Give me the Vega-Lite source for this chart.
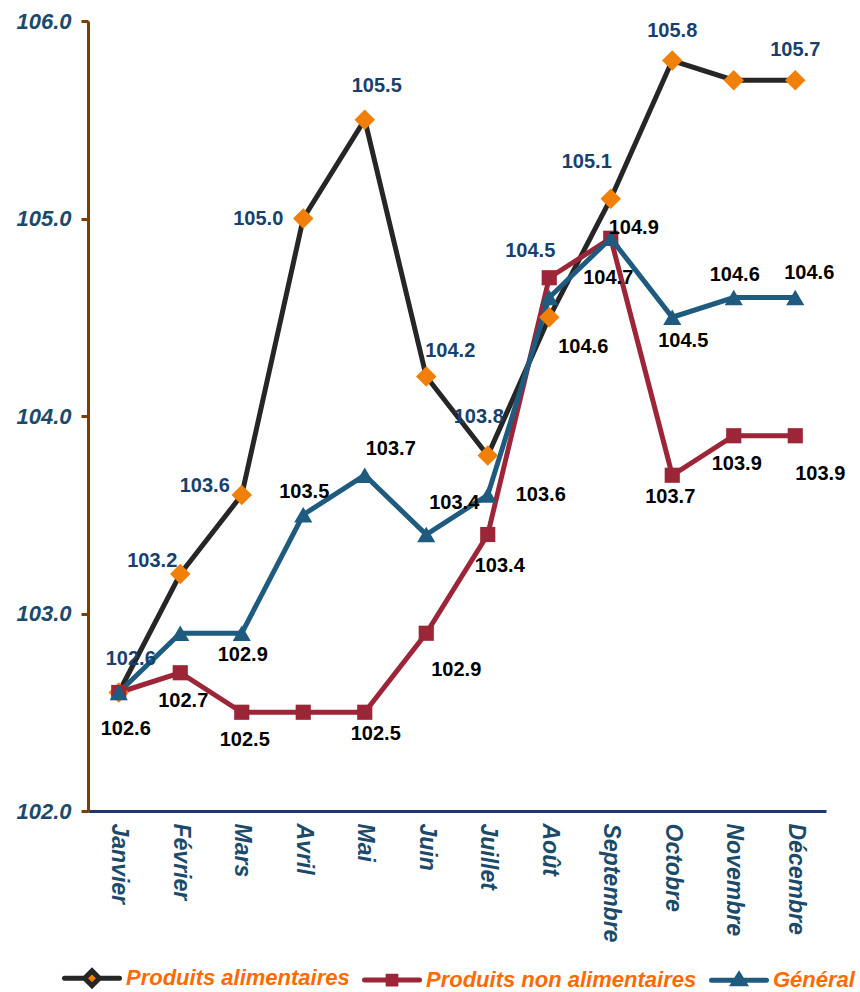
{
  "$schema": "https://vega.github.io/schema/vega-lite/v6.json",
  "autosize": "none",
  "width": 738,
  "height": 790,
  "padding": {"left": 88, "top": 21, "right": 34, "bottom": 181},
  "config": {"view": {"stroke": null}, "font": "Liberation Sans"},
  "data": {"values": [
    {"month": "Janvier", "series": "Produits alimentaires", "value": 102.6},
    {"month": "Février", "series": "Produits alimentaires", "value": 103.2},
    {"month": "Mars", "series": "Produits alimentaires", "value": 103.6},
    {"month": "Avril", "series": "Produits alimentaires", "value": 105.0},
    {"month": "Mai", "series": "Produits alimentaires", "value": 105.5},
    {"month": "Juin", "series": "Produits alimentaires", "value": 104.2},
    {"month": "Juillet", "series": "Produits alimentaires", "value": 103.8},
    {"month": "Août", "series": "Produits alimentaires", "value": 104.5},
    {"month": "Septembre", "series": "Produits alimentaires", "value": 105.1},
    {"month": "Octobre", "series": "Produits alimentaires", "value": 105.8},
    {"month": "Novembre", "series": "Produits alimentaires", "value": 105.7},
    {"month": "Décembre", "series": "Produits alimentaires", "value": 105.7},
    {"month": "Janvier", "series": "Produits non alimentaires", "value": 102.6},
    {"month": "Février", "series": "Produits non alimentaires", "value": 102.7},
    {"month": "Mars", "series": "Produits non alimentaires", "value": 102.5},
    {"month": "Avril", "series": "Produits non alimentaires", "value": 102.5},
    {"month": "Mai", "series": "Produits non alimentaires", "value": 102.5},
    {"month": "Juin", "series": "Produits non alimentaires", "value": 102.9},
    {"month": "Juillet", "series": "Produits non alimentaires", "value": 103.4},
    {"month": "Août", "series": "Produits non alimentaires", "value": 104.7},
    {"month": "Septembre", "series": "Produits non alimentaires", "value": 104.9},
    {"month": "Octobre", "series": "Produits non alimentaires", "value": 103.7},
    {"month": "Novembre", "series": "Produits non alimentaires", "value": 103.9},
    {"month": "Décembre", "series": "Produits non alimentaires", "value": 103.9},
    {"month": "Janvier", "series": "Général", "value": 102.6},
    {"month": "Février", "series": "Général", "value": 102.9},
    {"month": "Mars", "series": "Général", "value": 102.9},
    {"month": "Avril", "series": "Général", "value": 103.5},
    {"month": "Mai", "series": "Général", "value": 103.7},
    {"month": "Juin", "series": "Général", "value": 103.4},
    {"month": "Juillet", "series": "Général", "value": 103.6},
    {"month": "Août", "series": "Général", "value": 104.6},
    {"month": "Septembre", "series": "Général", "value": 104.9},
    {"month": "Octobre", "series": "Général", "value": 104.5},
    {"month": "Novembre", "series": "Général", "value": 104.6},
    {"month": "Décembre", "series": "Général", "value": 104.6}
  ]},
  "encoding": {
    "x": {"field": "month", "type": "nominal",
      "sort": ["Janvier","Février","Mars","Avril","Mai","Juin","Juillet","Août","Septembre","Octobre","Novembre","Décembre"],
      "scale": {"type": "point", "padding": 0.5},
      "axis": {"title": null, "labelAngle": 90, "labelAlign": "left", "labelBaseline": "middle",
        "labelFont": "Liberation Sans", "labelFontSize": 23, "labelFontStyle": "italic", "labelFontWeight": "bold",
        "labelColor": "#1b4a6b", "ticks": false, "domainColor": "#1f3864", "domainWidth": 3, "labelPadding": 12}},
    "y": {"field": "value", "type": "quantitative",
      "scale": {"domain": [102, 106], "zero": false, "nice": false},
      "axis": {"title": null, "values": [102, 103, 104, 105, 106], "format": ".1f", "grid": false,
        "labelFont": "Liberation Sans", "labelFontSize": 22, "labelFontStyle": "italic", "labelFontWeight": "bold",
        "labelColor": "#1b4a6b", "domainColor": "#7b3f00", "domainWidth": 3, "tickColor": "#7b3f00",
        "tickWidth": 3, "tickSize": 7, "labelPadding": 10}}
  },
  "layer": [
    {"mark": {"type": "line", "strokeWidth": 5},
     "encoding": {"stroke": {"field": "series", "type": "nominal",
       "scale": {"domain": ["Produits alimentaires", "Produits non alimentaires", "Général"], "range": ["#262626", "#9c2638", "#1f5b7f"]},
       "legend": {"title": null, "orient": "none", "legendX": -26, "legendY": 927, "direction": "horizontal",
           "symbolSize": 3025, "symbolStrokeWidth": 5, "labelOffset": 4, "columnPadding": 4, "padding": 0, "labelLimit": 0,
           "labelFont": "Liberation Sans", "labelFontSize": 22, "labelFontStyle": "italic", "labelFontWeight": "bold", "labelColor": "#ff6a00",
           "encode": {"symbols": {"update": {
             "shape": {"signal": "datum.value == 'Produits alimentaires' ? 'M-1,0H-0.27M0.27,0H1M0,-0.27L0.27,0L0,0.27L-0.27,0Z' : datum.value == 'Général' ? 'M-1,0H1M0,-0.2L0.2,0.12H-0.2Z' : 'M-1,0H1M-0.14,-0.14H0.14V0.14H-0.14Z'"},
             "fill": {"signal": "datum.value == 'Produits alimentaires' ? '#f0800a' : datum.value == 'Général' ? '#1f5b7f' : '#9c2638'"},
             "strokeCap": {"value": "round"},
             "opacity": {"value": 1}
           }}}}}}},
    {"mark": {"type": "point", "filled": true, "shape": "diamond", "size": 420, "color": "#f0800a", "opacity": 1},
     "transform": [{"filter": {"field": "series", "equal": "Produits alimentaires"}}]},
    {"mark": {"type": "point", "filled": true, "shape": "square", "size": 230, "color": "#9c2638", "opacity": 1},
     "transform": [{"filter": {"field": "series", "equal": "Produits non alimentaires"}}]},
    {"mark": {"type": "point", "filled": true, "shape": "triangle-up", "size": 330, "color": "#1f5b7f", "opacity": 1},
     "transform": [{"filter": {"field": "series", "equal": "Général"}}]},
    {"mark": {"type": "text", "dx": 12, "dy": -34, "fontSize": 20, "fontWeight": "bold", "color": "#17406d"},
     "transform": [{"filter": {"and": [{"field": "series", "equal": "Produits alimentaires"}, {"field": "month", "oneOf": ["Janvier", "Mai"]}]}}],
     "encoding": {"text": {"field": "value", "format": ".1f"}}},
    {"mark": {"type": "text", "dx": 0, "dy": -30, "fontSize": 20, "fontWeight": "bold", "color": "#17406d"},
     "transform": [{"filter": {"and": [{"field": "series", "equal": "Produits alimentaires"}, {"field": "month", "oneOf": ["Octobre", "Décembre"]}]}}],
     "encoding": {"text": {"field": "value", "format": ".1f"}}},
    {"mark": {"type": "text", "dx": -9, "dy": -39, "fontSize": 20, "fontWeight": "bold", "color": "#17406d"},
     "transform": [{"filter": {"and": [{"field": "series", "equal": "Produits alimentaires"}, {"field": "month", "oneOf": ["Juillet"]}]}}],
     "encoding": {"text": {"field": "value", "format": ".1f"}}},
    {"mark": {"type": "text", "dx": -24, "dy": -37, "fontSize": 20, "fontWeight": "bold", "color": "#17406d"},
     "transform": [{"filter": {"and": [{"field": "series", "equal": "Produits alimentaires"}, {"field": "month", "oneOf": ["Septembre"]}]}}],
     "encoding": {"text": {"field": "value", "format": ".1f"}}},
    {"mark": {"type": "text", "dx": -28, "dy": -13, "fontSize": 20, "fontWeight": "bold", "color": "#17406d"},
     "transform": [{"filter": {"and": [{"field": "series", "equal": "Produits alimentaires"}, {"field": "month", "oneOf": ["Février"]}]}}],
     "encoding": {"text": {"field": "value", "format": ".1f"}}},
    {"mark": {"type": "text", "dx": -37, "dy": -9, "fontSize": 20, "fontWeight": "bold", "color": "#17406d"},
     "transform": [{"filter": {"and": [{"field": "series", "equal": "Produits alimentaires"}, {"field": "month", "oneOf": ["Mars"]}]}}],
     "encoding": {"text": {"field": "value", "format": ".1f"}}},
    {"mark": {"type": "text", "dx": -45, "dy": 0, "fontSize": 20, "fontWeight": "bold", "color": "#17406d"},
     "transform": [{"filter": {"and": [{"field": "series", "equal": "Produits alimentaires"}, {"field": "month", "oneOf": ["Avril"]}]}}],
     "encoding": {"text": {"field": "value", "format": ".1f"}}},
    {"mark": {"type": "text", "dx": 24, "dy": -26, "fontSize": 20, "fontWeight": "bold", "color": "#17406d"},
     "transform": [{"filter": {"and": [{"field": "series", "equal": "Produits alimentaires"}, {"field": "month", "oneOf": ["Juin"]}]}}],
     "encoding": {"text": {"field": "value", "format": ".1f"}}},
    {"mark": {"type": "text", "dx": -19, "dy": -66, "fontSize": 20, "fontWeight": "bold", "color": "#17406d"},
     "transform": [{"filter": {"and": [{"field": "series", "equal": "Produits alimentaires"}, {"field": "month", "oneOf": ["Août"]}]}}],
     "encoding": {"text": {"field": "value", "format": ".1f"}}},
    {"mark": {"type": "text", "dx": 7, "dy": 36, "fontSize": 20, "fontWeight": "bold", "color": "#000000"},
     "transform": [{"filter": {"and": [{"field": "series", "equal": "Produits non alimentaires"}, {"field": "month", "oneOf": ["Janvier"]}]}}],
     "encoding": {"text": {"field": "value", "format": ".1f"}}},
    {"mark": {"type": "text", "dx": 3, "dy": 28, "fontSize": 20, "fontWeight": "bold", "color": "#000000"},
     "transform": [{"filter": {"and": [{"field": "series", "equal": "Produits non alimentaires"}, {"field": "month", "oneOf": ["Février", "Mars", "Novembre"]}]}}],
     "encoding": {"text": {"field": "value", "format": ".1f"}}},
    {"mark": {"type": "text", "dx": 11, "dy": 22, "fontSize": 20, "fontWeight": "bold", "color": "#000000"},
     "transform": [{"filter": {"and": [{"field": "series", "equal": "Produits non alimentaires"}, {"field": "month", "oneOf": ["Mai"]}]}}],
     "encoding": {"text": {"field": "value", "format": ".1f"}}},
    {"mark": {"type": "text", "dx": -2, "dy": 22, "fontSize": 20, "fontWeight": "bold", "color": "#000000"},
     "transform": [{"filter": {"and": [{"field": "series", "equal": "Produits non alimentaires"}, {"field": "month", "oneOf": ["Octobre"]}]}}],
     "encoding": {"text": {"field": "value", "format": ".1f"}}},
    {"mark": {"type": "text", "dx": 30, "dy": 37, "fontSize": 20, "fontWeight": "bold", "color": "#000000"},
     "transform": [{"filter": {"and": [{"field": "series", "equal": "Produits non alimentaires"}, {"field": "month", "oneOf": ["Juin"]}]}}],
     "encoding": {"text": {"field": "value", "format": ".1f"}}},
    {"mark": {"type": "text", "dx": 25, "dy": 38, "fontSize": 20, "fontWeight": "bold", "color": "#000000"},
     "transform": [{"filter": {"and": [{"field": "series", "equal": "Produits non alimentaires"}, {"field": "month", "oneOf": ["Décembre"]}]}}],
     "encoding": {"text": {"field": "value", "format": ".1f"}}},
    {"mark": {"type": "text", "dx": 12, "dy": 31, "fontSize": 20, "fontWeight": "bold", "color": "#000000"},
     "transform": [{"filter": {"and": [{"field": "series", "equal": "Produits non alimentaires"}, {"field": "month", "oneOf": ["Juillet"]}]}}],
     "encoding": {"text": {"field": "value", "format": ".1f"}}},
    {"mark": {"type": "text", "dx": 59, "dy": 0, "fontSize": 20, "fontWeight": "bold", "color": "#000000"},
     "transform": [{"filter": {"and": [{"field": "series", "equal": "Produits non alimentaires"}, {"field": "month", "oneOf": ["Août"]}]}}],
     "encoding": {"text": {"field": "value", "format": ".1f"}}},
    {"mark": {"type": "text", "dx": 23, "dy": -10, "fontSize": 20, "fontWeight": "bold", "color": "#000000"},
     "transform": [{"filter": {"and": [{"field": "series", "equal": "Produits non alimentaires"}, {"field": "month", "oneOf": ["Septembre"]}]}}],
     "encoding": {"text": {"field": "value", "format": ".1f"}}},
    {"mark": {"type": "text", "dx": 1, "dy": 22, "fontSize": 20, "fontWeight": "bold", "color": "#000000"},
     "transform": [{"filter": {"and": [{"field": "series", "equal": "Général"}, {"field": "month", "oneOf": ["Mars"]}]}}],
     "encoding": {"text": {"field": "value", "format": ".1f"}}},
    {"mark": {"type": "text", "dx": 1, "dy": -23, "fontSize": 20, "fontWeight": "bold", "color": "#000000"},
     "transform": [{"filter": {"and": [{"field": "series", "equal": "Général"}, {"field": "month", "oneOf": ["Avril", "Novembre"]}]}}],
     "encoding": {"text": {"field": "value", "format": ".1f"}}},
    {"mark": {"type": "text", "dx": 26, "dy": -26, "fontSize": 20, "fontWeight": "bold", "color": "#000000"},
     "transform": [{"filter": {"and": [{"field": "series", "equal": "Général"}, {"field": "month", "oneOf": ["Mai"]}]}}],
     "encoding": {"text": {"field": "value", "format": ".1f"}}},
    {"mark": {"type": "text", "dx": 28, "dy": -32, "fontSize": 20, "fontWeight": "bold", "color": "#000000"},
     "transform": [{"filter": {"and": [{"field": "series", "equal": "Général"}, {"field": "month", "oneOf": ["Juin"]}]}}],
     "encoding": {"text": {"field": "value", "format": ".1f"}}},
    {"mark": {"type": "text", "dx": 14, "dy": -25, "fontSize": 20, "fontWeight": "bold", "color": "#000000"},
     "transform": [{"filter": {"and": [{"field": "series", "equal": "Général"}, {"field": "month", "oneOf": ["Décembre"]}]}}],
     "encoding": {"text": {"field": "value", "format": ".1f"}}},
    {"mark": {"type": "text", "dx": 53, "dy": 0, "fontSize": 20, "fontWeight": "bold", "color": "#000000"},
     "transform": [{"filter": {"and": [{"field": "series", "equal": "Général"}, {"field": "month", "oneOf": ["Juillet"]}]}}],
     "encoding": {"text": {"field": "value", "format": ".1f"}}},
    {"mark": {"type": "text", "dx": 34, "dy": 49, "fontSize": 20, "fontWeight": "bold", "color": "#000000"},
     "transform": [{"filter": {"and": [{"field": "series", "equal": "Général"}, {"field": "month", "oneOf": ["Août"]}]}}],
     "encoding": {"text": {"field": "value", "format": ".1f"}}},
    {"mark": {"type": "text", "dx": 11, "dy": 24, "fontSize": 20, "fontWeight": "bold", "color": "#000000"},
     "transform": [{"filter": {"and": [{"field": "series", "equal": "Général"}, {"field": "month", "oneOf": ["Octobre"]}]}}],
     "encoding": {"text": {"field": "value", "format": ".1f"}}}
  ]
}
